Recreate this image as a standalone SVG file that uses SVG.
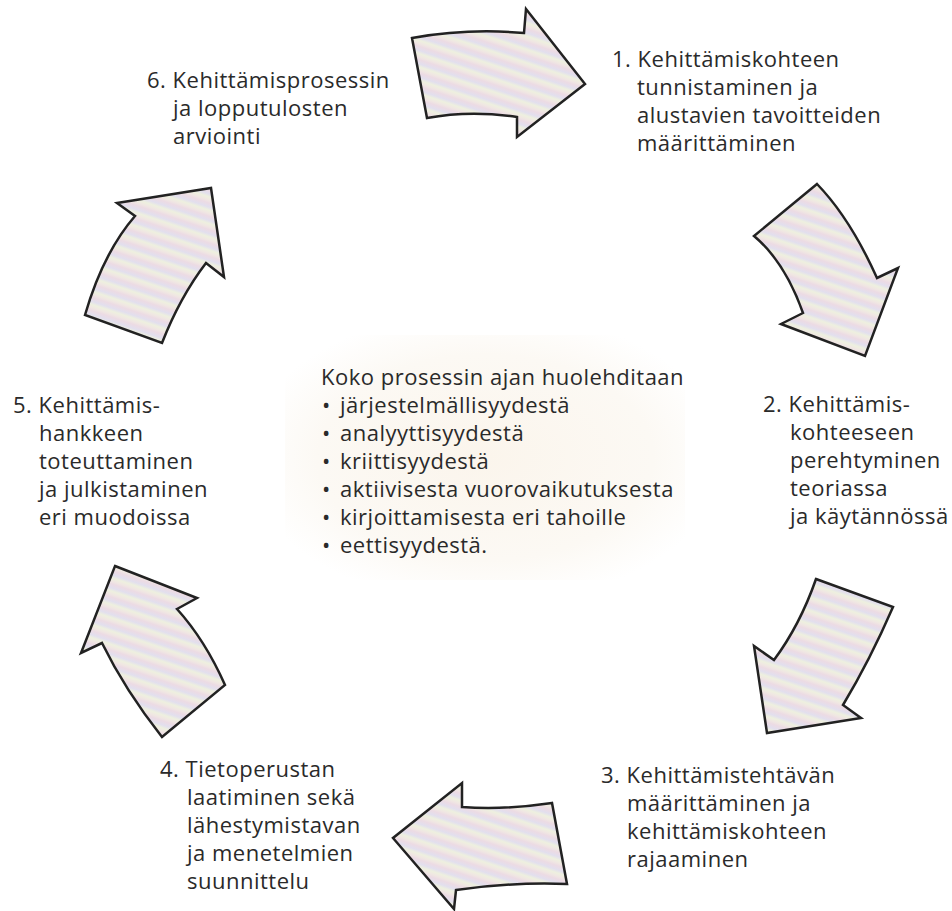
<svg xmlns="http://www.w3.org/2000/svg" width="952" height="911" viewBox="0 0 952 911">
<defs>
<linearGradient id="stripes" gradientUnits="userSpaceOnUse" x1="0" y1="0" x2="-4" y2="12" spreadMethod="repeat">
<stop offset="0" stop-color="#ecdbe4"/>
<stop offset="0.3" stop-color="#e2dfee"/>
<stop offset="0.55" stop-color="#eef0df"/>
<stop offset="0.8" stop-color="#f0e6e3"/>
<stop offset="1" stop-color="#ecdbe4"/>
</linearGradient>
<radialGradient id="bg" cx="0.5" cy="0.5" r="0.6">
<stop offset="0" stop-color="#fbf5ec"/>
<stop offset="0.7" stop-color="#fcf9f4"/>
<stop offset="1" stop-color="#ffffff"/>
</radialGradient>
</defs>
<style>
.arrow{fill:url(#stripes);stroke:#222;stroke-width:2.5;stroke-linejoin:miter}
text{font-family:"Open Sans","Noto Sans","DejaVu Sans",sans-serif;font-size:22px;letter-spacing:0.5px;fill:#2a2a2a}
</style>
<rect width="952" height="911" fill="#ffffff"/>
<rect x="285" y="335" width="400" height="245" fill="url(#bg)"/>
<g id="connectors">
<path class="arrow" d="M412,38 Q468,28 524,33 L526,9 L585,84 L517,137 L517,117 Q470,110 427,118 Z"/>
<path class="arrow" d="M817,184 L754,236 Q785,262 803,313 L781,324 L865,356 L898,268 L877,278 Q850,218 817,184 Z"/>
<path class="arrow" d="M816,579 L893,607 Q870,660 843,705 L861,718 L767,733 L754,646 L774,660 Q800,625 816,579 Z"/>
<path class="arrow" d="M552,803 Q505,810 462,807 L462,783 L393,838 L454,909 L456,890 Q510,882 567,884 Z"/>
<path class="arrow" d="M115,566 L197,598 L177,609 Q205,640 225,685 L162,737 Q125,690 102,643 L81,653 Z"/>
<path class="arrow" d="M117,203 L211,188 L224,277 L206,263 Q180,297 162,343 L85,315 Q103,253 135,216 Z"/>
</g>
<g id="node1">
<text x="612" y="67">1. Kehittämiskohteen</text>
<text x="637" y="95">tunnistaminen ja</text>
<text x="637" y="123">alustavien tavoitteiden</text>
<text x="637" y="151">määrittäminen</text>
</g>
<g id="node2">
<text x="763" y="412">2. Kehittämis-</text>
<text x="790" y="440">kohteeseen</text>
<text x="790" y="468">perehtyminen</text>
<text x="790" y="496">teoriassa</text>
<text x="790" y="524">ja käytännössä</text>
</g>
<g id="node3">
<text x="601" y="783">3. Kehittämistehtävän</text>
<text x="627" y="811">määrittäminen ja</text>
<text x="627" y="839">kehittämiskohteen</text>
<text x="627" y="867">rajaaminen</text>
</g>
<g id="node4">
<text x="160" y="777">4. Tietoperustan</text>
<text x="187" y="805">laatiminen sekä</text>
<text x="187" y="833">lähestymistavan</text>
<text x="187" y="861">ja menetelmien</text>
<text x="187" y="889">suunnittelu</text>
</g>
<g id="node5">
<text x="13" y="413">5. Kehittämis-</text>
<text x="39" y="441">hankkeen</text>
<text x="39" y="469">toteuttaminen</text>
<text x="39" y="497">ja julkistaminen</text>
<text x="39" y="525">eri muodoissa</text>
</g>
<g id="node6">
<text x="147" y="88">6. Kehittämisprosessin</text>
<text x="173" y="116">ja lopputulosten</text>
<text x="173" y="144">arviointi</text>
</g>
<g id="center">
<text x="321" y="385">Koko prosessin ajan huolehditaan</text>
<text x="322" y="413">•</text><text x="340" y="413">järjestelmällisyydestä</text>
<text x="322" y="441">•</text><text x="340" y="441">analyyttisyydestä</text>
<text x="322" y="469">•</text><text x="340" y="469">kriittisyydestä</text>
<text x="322" y="497">•</text><text x="340" y="497">aktiivisesta vuorovaikutuksesta</text>
<text x="322" y="525">•</text><text x="340" y="525">kirjoittamisesta eri tahoille</text>
<text x="322" y="553">•</text><text x="340" y="553">eettisyydestä.</text>
</g>
</svg>
